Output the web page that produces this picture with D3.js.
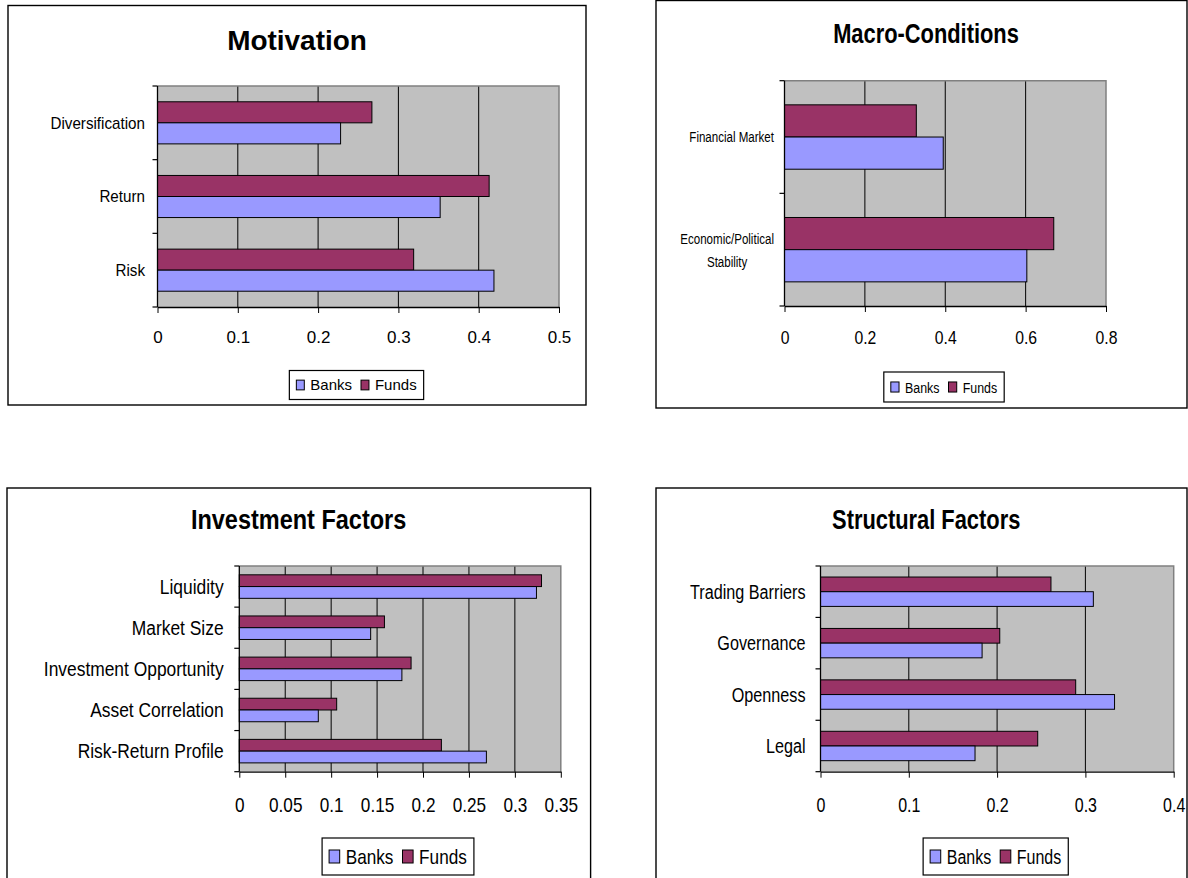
<!DOCTYPE html>
<html>
<head>
<meta charset="utf-8">
<script src="https://cdn.jsdelivr.net/npm/d3@7"></script>
<style>
  body { margin: 0; background: #fff; }
  svg { display: block; }
  text { font-family: "Liberation Sans", Arial, sans-serif; fill: #000; }
</style>
</head>
<body>
<svg id="chart" width="1188" height="878"></svg>
<script>
// ---- Data -------------------------------------------------------------
const seriesNames = ["Banks", "Funds"];
const seriesColors = { Banks: "#9999FF", Funds: "#993366" };

// Motivation (categories listed top to bottom)
const motivationCategories = ["Diversification", "Return", "Risk"];
const motivationBanks = [0.228, 0.352, 0.419];
const motivationFunds = [0.267, 0.413, 0.319];
const motivationTicks = ["0", "0.1", "0.2", "0.3", "0.4", "0.5"];

// Macro-Conditions
const macroCategories = ["Financial Market", "Economic/Political\nStability"];
const macroBanks = [0.395, 0.603];
const macroFunds = [0.328, 0.670];
const macroTicks = ["0", "0.2", "0.4", "0.6", "0.8"];

// Investment Factors
const investmentCategories = ["Liquidity", "Market Size", "Investment Opportunity", "Asset Correlation", "Risk-Return Profile"];
const investmentBanks = [0.3235, 0.143, 0.177, 0.086, 0.269];
const investmentFunds = [0.329, 0.158, 0.187, 0.106, 0.220];
const investmentTicks = ["0", "0.05", "0.1", "0.15", "0.2", "0.25", "0.3", "0.35"];

// Structural Factors
const structuralCategories = ["Trading Barriers", "Governance", "Openness", "Legal"];
const structuralBanks = [0.309, 0.183, 0.333, 0.175];
const structuralFunds = [0.261, 0.203, 0.289, 0.246];
const structuralTicks = ["0", "0.1", "0.2", "0.3", "0.4"];

// ---- Layout of the four panels ---------------------------------------
const panels = [
  {
    title: "Motivation", categories: motivationCategories, banks: motivationBanks, funds: motivationFunds, ticks: motivationTicks,
    box: [8, 5.5, 586, 405], plot: [157.5, 559, 86, 307],
    titleFont: { x: 297, y: 49.5, size: 28.5, sx: 0.98 },
    catFont: { right: 145, size: 16, sx: 0.95, lh: 20 },
    tickFont: { y: 343, size: 17, sx: 1 },
    legend: { cx: 356.5, cy: 385, size: 15, sx: 1, h: 29 }
  },
  {
    title: "Macro-Conditions", categories: macroCategories, banks: macroBanks, funds: macroFunds, ticks: macroTicks,
    box: [656, 0.5, 1187, 408], plot: [784.5, 1106, 80.7, 306],
    titleFont: { x: 926, y: 42.7, size: 27, sx: 0.81 },
    catFont: { right: 774, size: 15, sx: 0.77, lh: 23 },
    tickFont: { y: 344, size: 19, sx: 0.83 },
    legend: { cx: 944, cy: 387, size: 15.5, sx: 0.8, h: 30 }
  },
  {
    title: "Investment Factors", categories: investmentCategories, banks: investmentBanks, funds: investmentFunds, ticks: investmentTicks,
    box: [7, 488, 590.6, 882], plot: [239.3, 560.8, 566, 771.7],
    titleFont: { x: 298.6, y: 529.3, size: 27, sx: 0.87 },
    catFont: { right: 223.6, size: 20, sx: 0.87, lh: 24 },
    tickFont: { y: 812, size: 20, sx: 0.86 },
    legend: { cx: 398, cy: 856.5, size: 20, sx: 0.86, h: 37 }
  },
  {
    title: "Structural Factors", categories: structuralCategories, banks: structuralBanks, funds: structuralFunds, ticks: structuralTicks,
    box: [656, 488, 1187, 882], plot: [820.5, 1173.7, 566, 771.7],
    titleFont: { x: 926.2, y: 529.3, size: 27, sx: 0.81 },
    catFont: { right: 805.5, size: 20, sx: 0.81, lh: 24 },
    tickFont: { y: 812, size: 20, sx: 0.8 },
    legend: { cx: 995.7, cy: 856.5, size: 20, sx: 0.8, h: 37 }
  }
];

const svg = d3.select("#chart");

function drawPanel(p) {
  const g = svg.append("g");
  const [bx0, by0, bx1, by1] = p.box;
  const [px0, px1, py0, py1] = p.plot;

  // chart frame
  g.append("rect")
    .attr("x", bx0).attr("y", by0)
    .attr("width", bx1 - bx0).attr("height", by1 - by0)
    .attr("fill", "#fff").attr("stroke", "#000").attr("stroke-width", 1.4);

  const tickValues = p.ticks.map(Number);
  const x = d3.scaleLinear().domain([0, d3.max(tickValues)]).range([px0, px1]);
  const y = d3.scaleBand().domain(p.categories).range([py0, py1]);
  // two bars per category, 150% gap width split above and below
  const sub = d3.scaleBand().domain(["Funds", "Banks"]).range([0, y.bandwidth()]).paddingOuter(0.75);

  // plot area
  g.append("rect")
    .attr("x", px0).attr("y", py0)
    .attr("width", px1 - px0).attr("height", py1 - py0)
    .attr("fill", "#C0C0C0");

  // vertical gridlines
  g.selectAll("line.grid")
    .data(tickValues.slice(1, -1))
    .join("line")
    .attr("class", "grid")
    .attr("x1", d => x(d)).attr("x2", d => x(d))
    .attr("y1", py0).attr("y2", py1)
    .attr("stroke", "#000").attr("stroke-width", 1);

  // plot area border (top and right)
  g.append("path")
    .attr("d", `M${px0},${py0}H${px1}V${py1}`)
    .attr("fill", "none").attr("stroke", "#808080").attr("stroke-width", 1.5);

  // bars
  const rows = p.categories.map((c, i) => ({ cat: c, Banks: p.banks[i], Funds: p.funds[i] }));
  ["Funds", "Banks"].forEach(s => {
    g.selectAll(`rect.bar-${s}`)
      .data(rows)
      .join("rect")
      .attr("class", `bar-${s}`)
      .attr("x", x(0))
      .attr("y", d => y(d.cat) + sub(s))
      .attr("width", d => x(d[s]) - x(0))
      .attr("height", sub.bandwidth())
      .attr("fill", seriesColors[s])
      .attr("stroke", "#000").attr("stroke-width", 1);
  });

  // value axis
  const xAxis = d3.axisBottom(x)
    .tickValues(tickValues)
    .tickFormat((d, i) => p.ticks[i])
    .tickSize(6)
    .tickSizeOuter(0);
  const ax = g.append("g").attr("transform", `translate(0,${py1})`).call(xAxis);
  ax.select(".domain").attr("stroke", "#000").attr("stroke-width", 1.3);
  ax.selectAll(".tick line").attr("stroke", "#000");
  ax.selectAll(".tick text")
    .attr("font-family", null)
    .attr("font-size", p.tickFont.size)
    .attr("dy", null)
    .attr("y", p.tickFont.y - py1)
    .attr("transform", `scale(${p.tickFont.sx},1)`)
    .attr("fill", "#000");

  // category axis line and ticks at band boundaries
  g.append("line")
    .attr("x1", px0).attr("x2", px0).attr("y1", py0).attr("y2", py1)
    .attr("stroke", "#000").attr("stroke-width", 1.3);
  const bounds = p.categories.map(c => y(c)).concat([py1]);
  g.selectAll("line.ctick")
    .data(bounds)
    .join("line")
    .attr("class", "ctick")
    .attr("x1", px0 - 5).attr("x2", px0)
    .attr("y1", d => d).attr("y2", d => d)
    .attr("stroke", "#000").attr("stroke-width", 1.2);

  // category labels
  const cf = p.catFont;
  p.categories.forEach(c => {
    const lines = c.split("\n");
    const cy = y(c) + y.bandwidth() / 2;
    const t = g.append("text")
      .attr("font-size", cf.size)
      .attr("text-anchor", lines.length > 1 ? "middle" : "end");
    const firstBase = cy + 0.36 * cf.size - (lines.length - 1) * cf.lh / 2;
    lines.forEach((ln, i) => {
      t.append("tspan").attr("x", 0).attr("y", i * cf.lh).text(ln);
    });
    let tx = cf.right;
    if (lines.length > 1) {
      const w = t.node().getBBox().width * cf.sx;
      tx = cf.right - w / 2;
    }
    t.attr("transform", `translate(${tx},${firstBase}) scale(${cf.sx},1)`);
  });

  // title
  const tf = p.titleFont;
  g.append("text")
    .attr("text-anchor", "middle")
    .attr("font-weight", "bold")
    .attr("font-size", tf.size)
    .attr("transform", `translate(${tf.x},${tf.y}) scale(${tf.sx},1)`)
    .text(p.title);

  drawLegend(g, p.legend);
}

function drawLegend(g, L) {
  const pad = 7, gap = 6, itemGap = 9;
  const sw = L.size * 0.53, sh = L.size * 0.65;
  const lg = g.append("g");
  const box = lg.append("rect").attr("fill", "#fff").attr("stroke", "#000").attr("stroke-width", 1.2);
  const items = seriesNames.map(name => {
    const sq = lg.append("rect")
      .attr("width", sw).attr("height", sh)
      .attr("fill", seriesColors[name]).attr("stroke", "#000").attr("stroke-width", 1);
    const t = lg.append("text").attr("font-size", L.size).text(name);
    const w = t.node().getComputedTextLength() * L.sx;
    return { sq, t, w };
  });
  const total = pad + items.reduce((a, it) => a + sw + gap + it.w, 0) + itemGap * (items.length - 1) + pad;
  const left = L.cx - total / 2;
  let cur = left + pad;
  items.forEach((it, i) => {
    it.sq.attr("x", cur).attr("y", L.cy - sh / 2);
    cur += sw + gap;
    it.t.attr("transform", `translate(${cur},${L.cy + 0.36 * L.size}) scale(${L.sx},1)`);
    cur += it.w + (i < items.length - 1 ? itemGap : 0);
  });
  box.attr("x", left).attr("y", L.cy - L.h / 2).attr("width", total).attr("height", L.h);
}

panels.forEach(drawPanel);
</script>
</body>
</html>
